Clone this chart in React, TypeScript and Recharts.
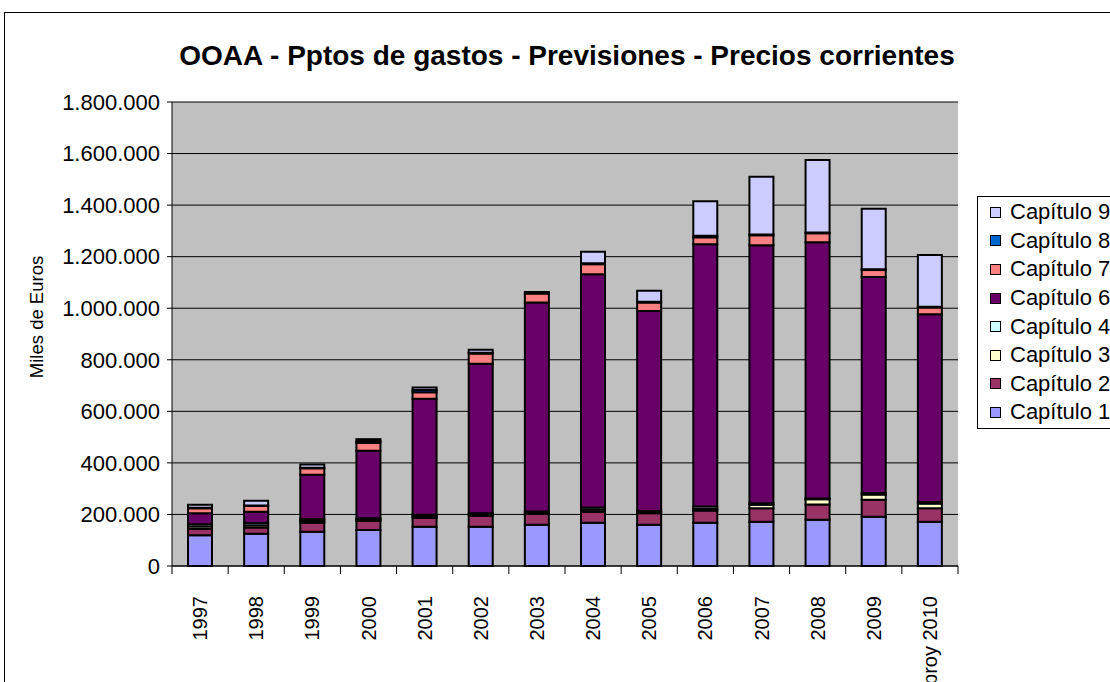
import { BarChart, Bar, XAxis, YAxis, CartesianGrid, Legend } from "recharts";

const FONT = "'Liberation Sans', Arial, sans-serif";

const years = ["1997", "1998", "1999", "2000", "2001", "2002", "2003", "2004", "2005", "2006", "2007", "2008", "2009", "proy 2010"];

// Miles de euros
const cap1 = [119000, 125000, 133000, 140000, 152000, 152000, 160000, 168000, 160000, 168000, 172000, 179000, 191000, 172000];
const cap2 = [25000, 24000, 35000, 35000, 35000, 43000, 43000, 41000, 45000, 47000, 52000, 60000, 66000, 52000];
const cap3 = [9000, 9000, 7000, 5000, 6000, 5000, 4000, 9000, 4000, 6000, 14000, 20000, 20000, 18000];
const cap4 = [9000, 9000, 7000, 5000, 6000, 5000, 4000, 9000, 4000, 10000, 5000, 3000, 6000, 6000];
const cap6 = [43000, 43000, 172000, 262000, 450000, 580000, 811000, 905000, 776000, 1017000, 1001000, 994000, 838000, 729000];
const cap7 = [19000, 23000, 25000, 31000, 25000, 39000, 35000, 39000, 33000, 27000, 39000, 35000, 27000, 26000];
const cap8 = [2000, 2000, 2000, 7000, 9000, 3000, 6000, 3000, 3000, 6000, 3000, 3000, 3000, 3000];
const cap9 = [12000, 18000, 13000, 7000, 9000, 12000, 0, 45000, 43000, 134000, 224000, 281000, 235000, 200000];

const yTicks = [0, 200000, 400000, 600000, 800000, 1000000, 1200000, 1400000, 1600000, 1800000];

const series = [
  { key: "cap1", name: "Capítulo 1", color: "#9999FF", values: cap1 },
  { key: "cap2", name: "Capítulo 2", color: "#993366", values: cap2 },
  { key: "cap3", name: "Capítulo 3", color: "#FFFFCC", values: cap3 },
  { key: "cap4", name: "Capítulo 4", color: "#CCFFFF", values: cap4 },
  { key: "cap6", name: "Capítulo 6", color: "#660066", values: cap6 },
  { key: "cap7", name: "Capítulo 7", color: "#FF8080", values: cap7 },
  { key: "cap8", name: "Capítulo 8", color: "#0066CC", values: cap8 },
  { key: "cap9", name: "Capítulo 9", color: "#CCCCFF", values: cap9 },
];

const data = years.map((year, i) => {
  const row: Record<string, string | number> = { year };
  series.forEach((s) => (row[s.key] = s.values[i]));
  return row;
});

const W = 1200;
const H = 700;
const M = { top: 89, right: 247, bottom: 0, left: 0 };
const Y_W = 167;
const STEP = (W - M.left - M.right - Y_W) / years.length;

const fmt = (v: number) => String(v).replace(/\B(?=(\d{3})+(?!\d))/g, ".");

function YearTick(props: any) {
  const { x, y, payload, index } = props;
  const ty = y + 30;
  return (
    <g>
      <line x1={x - STEP / 2} y1={y} x2={x - STEP / 2} y2={y + 8} stroke="#000" />
      {index === years.length - 1 && (
        <line x1={x + STEP / 2} y1={y} x2={x + STEP / 2} y2={y + 8} stroke="#000" />
      )}
      <text
        x={x}
        y={ty}
        transform={`rotate(-90 ${x} ${ty})`}
        textAnchor="end"
        dominantBaseline="central"
        fontSize={20}
        fontFamily={FONT}
        fill="#000"
      >
        {payload.value}
      </text>
    </g>
  );
}

function LegendBox() {
  return (
    <div
      style={{
        border: "1px solid #000",
        background: "#fff",
        width: 170,
        padding: "1px 0",
        fontFamily: FONT,
        fontSize: 22,
      }}
    >
      {[...series].reverse().map((s) => (
        <div key={s.key} style={{ display: "flex", alignItems: "center", height: 28.6, whiteSpace: "nowrap" }}>
          <span
            style={{
              display: "inline-block",
              width: 9,
              height: 9,
              marginLeft: 12,
              marginRight: 9,
              background: s.color,
              border: "1px solid #000",
            }}
          />
          <span>{s.name}</span>
        </div>
      ))}
    </div>
  );
}

export default function App() {
  return (
    <div
      style={{
        position: "absolute",
        left: 4,
        top: 12,
        width: W,
        height: H,
        border: "1px solid #000",
        background: "#fff",
        fontFamily: FONT,
      }}
    >
      <div
        style={{
          position: "absolute",
          top: 29,
          left: 562,
          transform: "translateX(-50%)",
          whiteSpace: "nowrap",
          fontSize: 28,
          lineHeight: 1,
          fontWeight: "bold",
        }}
      >
        OOAA - Pptos de gastos - Previsiones - Precios corrientes
      </div>
      <BarChart width={W} height={H} data={data} margin={M} barSize={24}>
        <CartesianGrid vertical={false} stroke="#000" fill="#C0C0C0" fillOpacity={1} />
        <XAxis
          dataKey="year"
          interval={0}
          height={H - M.top - M.bottom - 464}
          tickSize={0}
          tickMargin={0}
          tickLine={false}
          axisLine={{ stroke: "#000" }}
          tick={<YearTick />}
        />
        <YAxis
          width={Y_W}
          domain={[0, 1800000]}
          ticks={yTicks}
          interval={0}
          tickFormatter={fmt}
          tickSize={5}
          tickMargin={7}
          axisLine={{ stroke: "#000" }}
          tickLine={{ stroke: "#000" }}
          tick={{ fontSize: 22, fontFamily: FONT, fill: "#000" }}
          label={{
            content: ({ viewBox }: any) => {
              const cx = viewBox.x + 31;
              const cy = viewBox.y + viewBox.height / 2 - 17;
              return (
                <text
                  x={cx}
                  y={cy}
                  transform={`rotate(-90 ${cx} ${cy})`}
                  textAnchor="middle"
                  dominantBaseline="central"
                  fontSize={18.5}
                  fontFamily={FONT}
                  fill="#000"
                >
                  Miles de Euros
                </text>
              );
            },
          }}
        />
        <YAxis
          yAxisId="edge"
          orientation="right"
          width={0}
          tick={false}
          tickLine={false}
          axisLine={{ stroke: "#808080" }}
        />
        <Legend
          layout="vertical"
          align="center"
          verticalAlign="middle"
          wrapperStyle={{ left: 972, top: 183, width: "auto", height: "auto" }}
          content={<LegendBox />}
        />
        {series.map((s) => (
          <Bar
            key={s.key}
            dataKey={s.key}
            name={s.name}
            stackId="a"
            fill={s.color}
            stroke="#000"
            strokeWidth={2}
            isAnimationActive={false}
          />
        ))}
      </BarChart>
    </div>
  );
}
